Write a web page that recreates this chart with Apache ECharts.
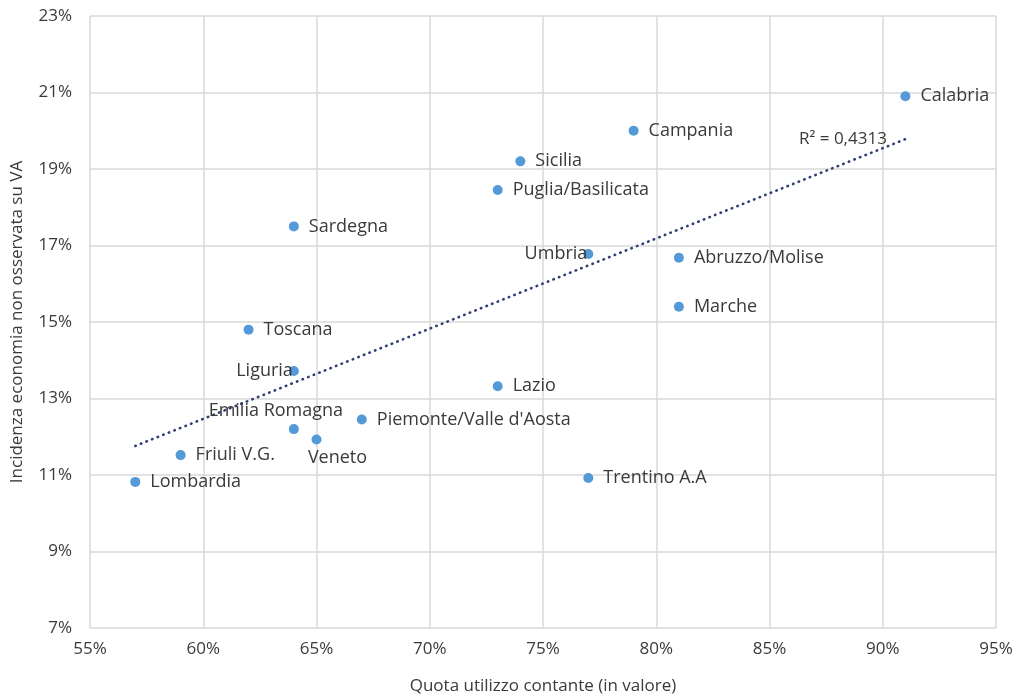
<!DOCTYPE html>
<html>
<head>
<meta charset="utf-8">
<script src="https://cdn.jsdelivr.net/npm/echarts@6/dist/echarts.min.js"></script>
<style>
  html, body { margin: 0; padding: 0; background: #fff; }
  #chart { width: 1019px; height: 696px; }
</style>
</head>
<body>
<div id="chart"></div>
<script>
// regioni e valori (% contante, % economia non osservata)
var regions = ["Calabria", "Campania", "Sicilia", "Puglia/Basilicata", "Sardegna", "Umbria",
  "Abruzzo/Molise", "Marche", "Toscana", "Liguria", "Lazio", "Piemonte/Valle d'Aosta",
  "Emilia Romagna", "Veneto", "Friuli V.G.", "Lombardia", "Trentino A.A"];
var cashShare = [91, 79, 74, 73, 64, 77, 81, 81, 62, 64, 73, 67, 64, 65, 59, 57, 77];
var shadowShare = [20.9, 20.0, 19.2, 18.45, 17.5, 16.78, 16.68, 15.4, 14.8, 13.72, 13.32, 12.45,
  12.2, 11.93, 11.52, 10.82, 10.92];
// posizione etichetta per ogni punto
var labelPos = ["right", "right", "right", "right", "right", "left", "right", "right", "right",
  "left", "right", "right", "top", "bottom", "right", "right", "right"];

// linea di tendenza (estremi)
var trendX = [57, 91];
var trendY = [11.76, 19.78];
var r2Text = "R\u00b2 = 0,4313";

var xTicks = [55, 95, 5];
var yTicks = [7, 23, 2];

var font = "'Open Sans', 'Noto Sans', sans-serif";
var textColor = "#3a3a3a";

var chart = echarts.init(document.getElementById("chart"));

var points = regions.map(function (name, i) {
  var lp = labelPos[i];
  var lbl = { position: lp, distance: 10 };
  if (lp === "top") { lbl.distance = 4; lbl.offset = [-18, 0]; }
  if (lp === "bottom") { lbl.distance = 4; lbl.offset = [21, 0]; }
  if (lp === "left") { lbl.distance = 0; lbl.offset = [4, 0]; }
  return { name: name, value: [cashShare[i], shadowShare[i]], label: lbl };
});

var option = {
  animation: false,
  textStyle: { fontFamily: font },
  grid: { left: 90, right: 23, top: 16, bottom: 68, outerBoundsMode: "none", containLabel: false },
  xAxis: {
    type: "value",
    min: xTicks[0], max: xTicks[1], interval: xTicks[2],
    name: "Quota utilizzo contante (in valore)",
    nameLocation: "middle",
    nameGap: 50,
    nameTextStyle: { color: textColor, fontSize: 17, fontFamily: font },
    axisLine: { show: false },
    axisTick: { show: false },
    axisLabel: { color: textColor, fontSize: 17, margin: 13, formatter: "{value}%" },
    splitLine: { show: true, lineStyle: { color: "#d9d9d9", width: 1.5 } }
  },
  yAxis: {
    type: "value",
    min: yTicks[0], max: yTicks[1], interval: yTicks[2],
    name: "Incidenza economia non osservata su VA",
    nameLocation: "middle",
    nameGap: 64,
    nameTextStyle: { color: textColor, fontSize: 17, fontFamily: font },
    axisLine: { show: false },
    axisTick: { show: false },
    axisLabel: { color: textColor, fontSize: 17, margin: 18, formatter: "{value}%" },
    splitLine: { show: true, lineStyle: { color: "#d9d9d9", width: 1.5 } }
  },
  series: [
    {
      type: "line",
      data: [[trendX[0], trendY[0]], [trendX[1], trendY[1]]],
      symbol: "none",
      lineStyle: { color: "#2f3f75", width: 2.6, type: [0.5, 5.5], cap: "round" },
      silent: true,
      z: 1,
      markPoint: {
        symbol: "circle",
        symbolSize: 1,
        itemStyle: { color: "rgba(0,0,0,0)" },
        silent: true,
        label: {
          show: true,
          formatter: r2Text,
          position: "left",
          distance: 18,
          color: textColor,
          fontSize: 17,
          fontFamily: font
        },
        data: [{ coord: [trendX[1], trendY[1]] }]
      }
    },
    {
      type: "scatter",
      data: points,
      symbolSize: 10,
      itemStyle: { color: "#559ad8", opacity: 1 },
      z: 3,
      label: {
        show: true,
        formatter: "{b}",
        color: textColor,
        fontSize: 18,
        fontFamily: font
      }
    }
  ]
};

chart.setOption(option);
</script>
</body>
</html>
